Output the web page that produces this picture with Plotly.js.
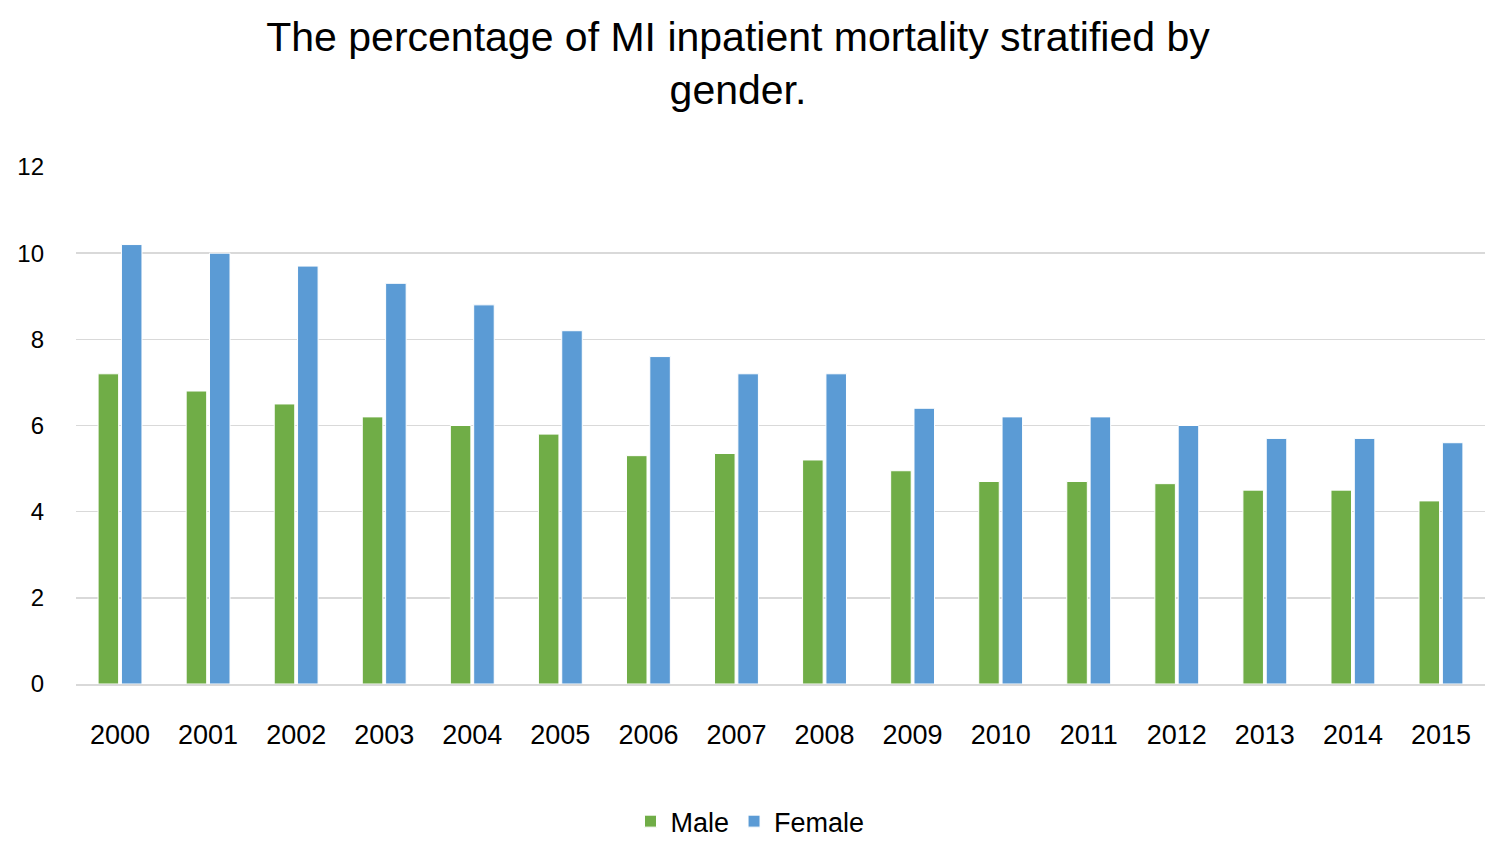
<!DOCTYPE html>
<html>
<head>
<meta charset="utf-8">
<script src="https://cdn.plot.ly/plotly-3.0.1.min.js"></script>
<style>html,body{margin:0;padding:0;background:#fff}#chart{width:1500px;height:847px}</style>
</head>
<body>
<div id="chart"></div>
<script>
const years = ["2000","2001","2002","2003","2004","2005","2006","2007","2008","2009","2010","2011","2012","2013","2014","2015"];
const maleValues = [7.2, 6.8, 6.5, 6.2, 6.0, 5.8, 5.3, 5.35, 5.2, 4.95, 4.7, 4.7, 4.65, 4.5, 4.5, 4.25];
const femaleValues = [10.2, 10.0, 9.7, 9.3, 8.8, 8.2, 7.6, 7.2, 7.2, 6.4, 6.2, 6.2, 6.0, 5.7, 5.7, 5.6];
const yTicks = [0, 2, 4, 6, 8, 10, 12];

const font = "Liberation Sans, Arial, sans-serif";
const traces = [
  {type: "bar", name: "Male", x: years, y: maleValues,
   marker: {color: "#70AD47", line: {color: "#ffffff", width: 1}}},
  {type: "bar", name: "Female", x: years, y: femaleValues,
   marker: {color: "#5B9BD5", line: {color: "#ffffff", width: 1}}}
];
const layout = {
  width: 1500, height: 847,
  paper_bgcolor: "#ffffff", plot_bgcolor: "#ffffff",
  font: {family: font, color: "#000000"},
  title: {text: "The percentage of MI inpatient mortality stratified by<br>gender.",
          font: {family: font, size: 41, color: "#000000"},
          xref: "container", x: 0.492, xanchor: "center",
          yref: "container", y: 0.94, yanchor: "top"},
  margin: {l: 76, r: 15, t: 166.5, b: 162.5},
  barmode: "group", bargap: 0.47, bargroupgap: 0.12,
  xaxis: {type: "category", showgrid: false, showline: true, linecolor: "#D9D9D9", linewidth: 1.5,
          ticks: "", tickfont: {family: font, size: 27, color: "#000"}, ticklabelstandoff: 26},
  yaxis: {range: [0, 12], tickvals: yTicks, showgrid: true, gridcolor: "#D9D9D9", gridwidth: 1.5,
          zeroline: false, showline: false, ticks: "",
          tickfont: {family: font, size: 24, color: "#000"}, ticklabelstandoff: 31},
  showlegend: true,
  legend: {orientation: "h", xref: "container", x: 0.5, xanchor: "center",
           yref: "container", y: 0.03, yanchor: "middle",
           font: {family: font, size: 27, color: "#000"}, itemwidth: 30}
};
Plotly.newPlot("chart", traces, layout, {displayModeBar: false, staticPlot: true});
</script>
</body>
</html>
